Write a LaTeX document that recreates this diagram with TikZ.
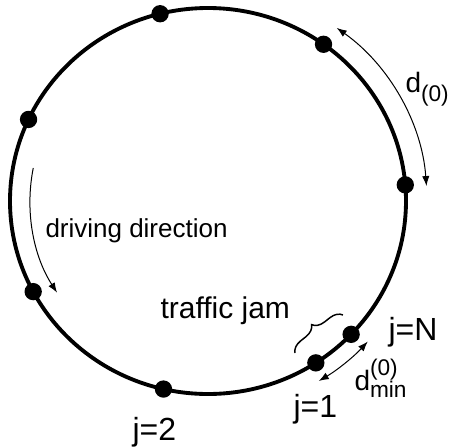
\documentclass[tikz,border=0pt]{standalone}
\usepackage{fontspec}
\setmainfont{Liberation Sans}
\usetikzlibrary{arrows.meta,decorations.pathreplacing}

\tikzset{every picture/.style={line width=0.75pt}}
\tikzset{
  ring/.style={line width=2.9pt},
  car/.style={circle,fill=black,inner sep=0pt,minimum size=13pt},
  gap/.style={line width=0.75pt,{Latex[length=7.5pt,width=5.5pt]}-{Latex[length=7.5pt,width=5.5pt]}},
  drive/.style={line width=0.75pt,-{Latex[length=7.5pt,width=5.5pt]}},
  lbl/.style={anchor=base west,inner sep=0pt,font=\fontsize{24}{28}\selectfont},
  smalllbl/.style={anchor=base west,inner sep=0pt,font=\fontsize{19.5}{23}\selectfont}
}

\begin{document}
\begin{tikzpicture}[x=0.75pt,y=0.75pt,yscale=-1,xscale=1]
        \useasboundingbox (0,0) rectangle (454,447);
        \coordinate (c) at (208,201);
        \draw[ring] (c) ellipse [x radius=198, y radius=193];

        \begin{scope}[shift={(208,201)}]
        % cars on the ring
        \node[car] (v1) at (-104:198 and 193) {};
        \node[car] (v2) at (-54.3:198 and 193) {};
        \node[car] (v3) at (-4.8:198 and 193) {};
        \node[car] (vN) at (43.7:198 and 193) {};
        \node[car] (vone) at (57:198 and 193) {};
        \node[car] (vtwo) at (103:198 and 193) {};
        \node[car] (v7) at (152:198 and 193) {};
        \node[car] (v8) at (205:198 and 193) {};

        % distances and direction
        \coordinate (dza) at (-54:219 and 214);
        \coordinate (dma) at (42:215 and 210);
        \coordinate (dra) at (191:178 and 173);
        \draw[gap] (dza) arc [start angle=-54, end angle=-4, x radius=219, y radius=214];
        \draw[gap] (dma) arc [start angle=42, end angle=59, x radius=215, y radius=210];
        \draw[drive] (dra) arc [start angle=191, end angle=148, x radius=178, y radius=173];
        \end{scope}

        \coordinate (bra) at (295,353);
        \coordinate (brb) at (343,315);
        \draw[line width=1.1pt,decorate,decoration={brace,amplitude=9pt}] (bra) -- (brb);

        \node[lbl,font=\fontsize{22.5}{27}\selectfont] (jam) at (160,318) {traffic jam};
        \node[lbl] (lblN) at (388,340) {j=N};
        \node[lbl] (lblone) at (293,417) {j=1};
        \node[lbl] (lbltwo) at (132,440) {j=2};
        \node[smalllbl] (dir) at (45,237) {driving direction};
        \node[anchor=base west,inner sep=0pt,font=\fontsize{21}{24}\selectfont] (dzero) at (405,92)
          {d\raisebox{-6.75pt}{\fontsize{17}{20}\selectfont(0)}};
        \node[anchor=base west,inner sep=0pt,font=\fontsize{21}{24}\selectfont] (dmin) at (354,390)
          {d\rlap{\raisebox{11.25pt}{\fontsize{17}{20}\selectfont(0)}}\raisebox{-5.25pt}{\fontsize{17}{20}\selectfont min}};
    \end{tikzpicture}
\end{document}
